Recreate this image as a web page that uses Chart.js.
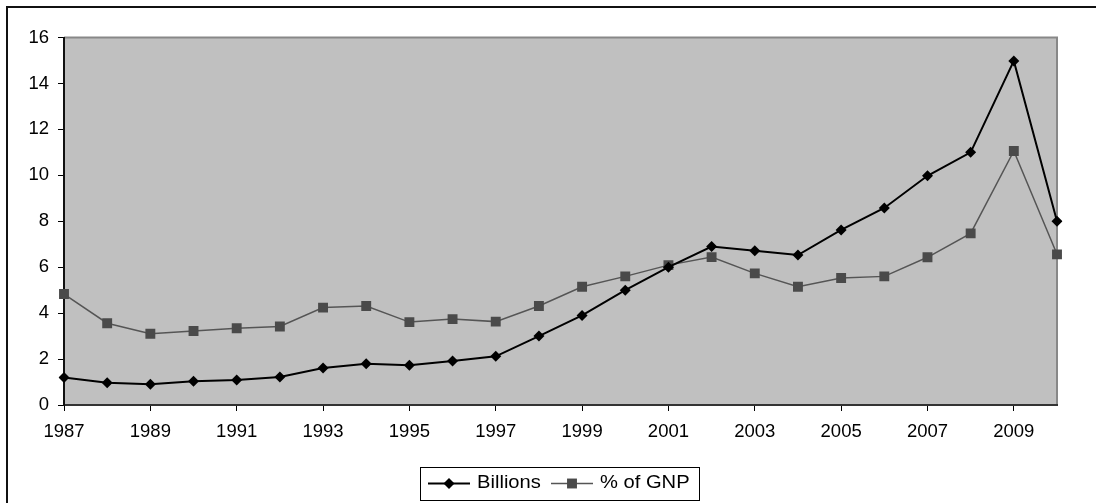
<!DOCTYPE html>
<html>
<head>
<meta charset="utf-8">
<script src="https://cdn.jsdelivr.net/npm/chart.js@4.4.1/dist/chart.umd.min.js"></script>
<style>
  html, body { margin: 0; padding: 0; background: #ffffff; }
  #wrap { width: 1096px; height: 503px; position: relative; }
</style>
</head>
<body>
<div id="wrap"><canvas id="c" width="1096" height="503"></canvas></div>
<script>
// Years on the category axis
const years = ['1987','1988','1989','1990','1991','1992','1993','1994','1995','1996','1997','1998',
               '1999','2000','2001','2002','2003','2004','2005','2006','2007','2008','2009','2010'];
// Labelled years on the x axis
const xTickLabels = ['1987','1989','1991','1993','1995','1997','1999','2001','2003','2005','2007','2009'];
// Series values
const billions = [1.2, 0.97, 0.9, 1.03, 1.09, 1.22, 1.61, 1.8, 1.73, 1.92, 2.12, 3.0,
                  3.9, 5.0, 6.0, 6.9, 6.72, 6.53, 7.62, 8.58, 9.98, 11.0, 14.98, 8.0];
const gnpPct   = [4.83, 3.56, 3.1, 3.22, 3.34, 3.42, 4.24, 4.31, 3.61, 3.74, 3.63, 4.31,
                  5.15, 5.6, 6.09, 6.44, 5.73, 5.15, 5.53, 5.6, 6.43, 7.47, 11.06, 6.56];
const seriesNames = ['Billions', '% of GNP'];
const yTicks = [0, 2, 4, 6, 8, 10, 12, 14, 16];

const FONT = '"Liberation Sans", Arial, sans-serif';

// Frame, plot background and plot border
const framePlugin = {
  id: 'frame',
  beforeDraw(chart) {
    const { ctx, chartArea: a } = chart;
    ctx.save();
    ctx.fillStyle = '#ffffff';
    ctx.fillRect(0, 0, chart.width, chart.height);
    ctx.fillStyle = '#111111';
    ctx.fillRect(6, 6, chart.width - 6, 2);
    ctx.fillRect(6, 6, 2, chart.height - 6);
    ctx.fillStyle = '#c0c0c0';
    ctx.fillRect(a.left, a.top, a.right - a.left, a.bottom - a.top);
    ctx.strokeStyle = '#888888';
    ctx.lineWidth = 2;
    ctx.beginPath();
    ctx.moveTo(a.left, a.top);
    ctx.lineTo(a.right, a.top);
    ctx.lineTo(a.right, a.bottom);
    ctx.stroke();
    ctx.restore();
  }
};

// Boxed legend under the plot, line + marker + name for each series
const legendPlugin = {
  id: 'boxLegend',
  afterDraw(chart) {
    const { ctx } = chart;
    const boxX = 420, boxY = 467, boxW = 279, boxH = 33;
    const cy = boxY + boxH / 2;
    ctx.save();
    ctx.strokeStyle = '#000000';
    ctx.lineWidth = 1;
    ctx.strokeRect(boxX + 0.5, boxY + 0.5, boxW, boxH);
    const starts = [428, 551];
    chart.data.datasets.forEach((ds, i) => {
      const x0 = starts[i];
      ctx.strokeStyle = ds.borderColor;
      ctx.lineWidth = ds.borderWidth;
      ctx.beginPath();
      ctx.moveTo(x0, cy);
      ctx.lineTo(x0 + 42, cy);
      ctx.stroke();
      ctx.fillStyle = ds.pointBackgroundColor;
      const mx = x0 + 21;
      if (ds.pointStyle === 'rectRot') {
        const r = ds.pointRadius;
        ctx.beginPath();
        ctx.moveTo(mx, cy - r);
        ctx.lineTo(mx + r, cy);
        ctx.lineTo(mx, cy + r);
        ctx.lineTo(mx - r, cy);
        ctx.closePath();
        ctx.fill();
      } else {
        const h = ds.pointRadius * Math.SQRT1_2;
        ctx.fillRect(mx - h, cy - h, 2 * h, 2 * h);
      }
      ctx.fillStyle = '#000000';
      ctx.font = '18px ' + FONT;
      ctx.textBaseline = 'middle';
      ctx.save();
      ctx.translate(x0 + 49, cy);
      ctx.scale(1.12, 1);
      ctx.fillText(ds.label, 0, 0);
      ctx.restore();
    });
    ctx.restore();
  }
};

new Chart(document.getElementById('c'), {
  type: 'line',
  data: {
    labels: years,
    datasets: [
      {
        label: seriesNames[0],
        data: billions,
        borderColor: '#000000',
        backgroundColor: '#000000',
        borderWidth: 2,
        pointStyle: 'rectRot',
        pointRadius: 5.5,
        pointBackgroundColor: '#000000',
        pointBorderColor: '#000000',
        pointBorderWidth: 0,
        tension: 0,
        order: 1
      },
      {
        label: seriesNames[1],
        data: gnpPct,
        borderColor: '#555555',
        backgroundColor: '#4a4a4a',
        borderWidth: 1.5,
        pointStyle: 'rect',
        pointRadius: 7,
        pointBackgroundColor: '#4a4a4a',
        pointBorderColor: '#4a4a4a',
        pointBorderWidth: 0,
        tension: 0,
        order: 2
      }
    ]
  },
  options: {
    responsive: false,
    animation: false,
    devicePixelRatio: 1,
    events: [],
    layout: { padding: { left: 0, top: 37.5, right: 39, bottom: 0 } },
    plugins: {
      legend: { display: false },
      tooltip: { enabled: false },
      title: { display: false }
    },
    scales: {
      x: {
        type: 'category',
        offset: false,
        afterFit(scale) { scale.height = 98; },
        border: { display: true, color: '#333333', width: 2 },
        grid: {
          display: true,
          drawOnChartArea: false,
          drawTicks: true,
          tickLength: 6,
          tickWidth: 1,
          tickColor: (c) => xTickLabels.includes(years[c.index]) ? '#000000' : 'rgba(0,0,0,0)'
        },
        ticks: {
          autoSkip: false,
          maxRotation: 0,
          minRotation: 0,
          padding: 10,
          color: '#000000',
          font: { family: FONT, size: 18.5 },
          callback: (v, i) => xTickLabels.includes(years[i]) ? years[i] : ''
        }
      },
      y: {
        min: 0,
        max: 16,
        afterFit(scale) { scale.width = 64; },
        afterBuildTicks(scale) { scale.ticks = yTicks.map(v => ({ value: v })); },
        border: { display: true, color: '#111111', width: 2 },
        grid: {
          display: true,
          drawOnChartArea: false,
          drawTicks: true,
          tickLength: 6,
          tickWidth: 1,
          tickColor: '#000000'
        },
        ticks: {
          padding: 9,
          color: '#000000',
          font: { family: FONT, size: 18.5 }
        }
      }
    }
  },
  plugins: [framePlugin, legendPlugin]
});
</script>
</body>
</html>
